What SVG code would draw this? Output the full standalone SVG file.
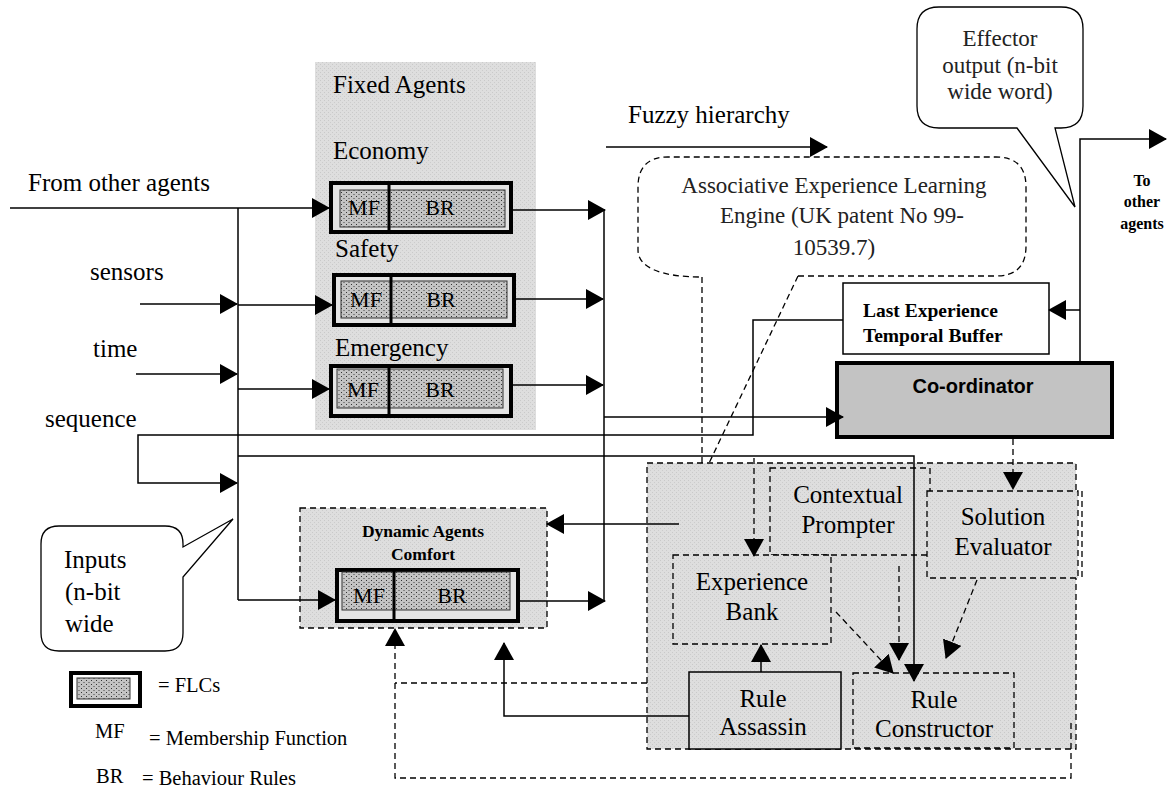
<svg xmlns="http://www.w3.org/2000/svg" width="1167" height="788" viewBox="0 0 1167 788">
<style>
.t{font-family:"Liberation Serif","Times New Roman",serif;font-size:25px;fill:#000}
.tl{font-family:"Liberation Serif","Times New Roman",serif;font-size:23px;fill:#222}
.tb{font-family:"Liberation Serif","Times New Roman",serif;font-weight:bold;fill:#000}
.ts{font-family:"Liberation Sans",Arial,sans-serif;font-weight:bold;font-size:20px;fill:#000}
.lg{font-family:"Liberation Serif","Times New Roman",serif;font-size:20.5px;fill:#000}
.fl{font-family:"Liberation Serif","Times New Roman",serif;font-size:22px;fill:#000}
.ln{stroke:#000;stroke-width:1.5;fill:none}
.dl{stroke:#000;stroke-width:1.3;fill:none;stroke-dasharray:6 4}
.a{marker-end:url(#ah)}
.panel{fill:url(#grain)}
.dbox{fill:url(#grain);stroke:#000;stroke-width:1.3;stroke-dasharray:6 4}
.outer{fill:#e4e4e4;stroke:#000;stroke-width:4}
.inner{fill:url(#dots);stroke:#333;stroke-width:1}
.div{stroke:#000;stroke-width:3}
</style>
<defs>
<marker id="ah" viewBox="0 0 18 20" refX="17" refY="10" markerWidth="18" markerHeight="20" markerUnits="userSpaceOnUse" orient="auto">
<path d="M0,0 L18,10 L0,20 z" fill="#000"/>
</marker>
<pattern id="dots" width="5" height="4" patternUnits="userSpaceOnUse">
<rect width="5" height="4" fill="#c4c4c4"/>
<rect x="1" y="0" width="1" height="1" fill="#333"/>
<rect x="3.5" y="2" width="1" height="1" fill="#444"/>
</pattern>
<pattern id="grain" width="4" height="4" patternUnits="userSpaceOnUse">
<rect width="4" height="4" fill="#dedede"/>
<rect x="0" y="0" width="1" height="1" fill="#c9c9c9"/>
<rect x="2" y="2" width="1" height="1" fill="#cccccc"/>
</pattern>
</defs>
<rect width="1167" height="788" fill="#fff"/>

<!-- Fixed agents panel -->
<g id="fixed-agents">
<rect class="panel" x="315" y="62" width="221" height="368"/>
<text class="t" x="333" y="93">Fixed Agents</text>
<text class="t" x="333" y="159">Economy</text>
<text class="t" x="335" y="257">Safety</text>
<text class="t" x="335" y="356">Emergency</text>
</g>
<g id="economy-flc">
<rect class="outer" x="331" y="183" width="180" height="49"/>
<rect class="inner" x="340" y="190" width="165" height="37"/>
<line class="div" x1="389" y1="183" x2="389" y2="232"/>
<text class="fl" x="364" y="215" text-anchor="middle">MF</text>
<text class="fl" x="440" y="215" text-anchor="middle">BR</text>
</g>
<g id="safety-flc">
<rect class="outer" x="334" y="275" width="180" height="50"/>
<rect class="inner" x="341" y="281" width="166" height="37"/>
<line class="div" x1="391" y1="275" x2="391" y2="325"/>
<text class="fl" x="366" y="307" text-anchor="middle">MF</text>
<text class="fl" x="441" y="307" text-anchor="middle">BR</text>
</g>
<g id="emergency-flc">
<rect class="outer" x="331" y="366" width="180" height="50"/>
<rect class="inner" x="337" y="369" width="166" height="39"/>
<line class="div" x1="389" y1="366" x2="389" y2="416"/>
<text class="fl" x="363" y="397" text-anchor="middle">MF</text>
<text class="fl" x="440" y="397" text-anchor="middle">BR</text>
</g>

<!-- Dynamic agents -->
<g id="dynamic-agents">
<rect class="dbox" x="300" y="508" width="247" height="120"/>
<text class="tb" x="423" y="537" font-size="17.5" text-anchor="middle">Dynamic Agents</text>
<text class="tb" x="423" y="560" font-size="17.5" text-anchor="middle">Comfort</text>
<rect class="outer" x="337" y="570" width="181" height="51"/>
<rect class="inner" x="342" y="572" width="168" height="38"/>
<line class="div" x1="394" y1="570" x2="394" y2="621"/>
<text class="fl" x="369" y="603" text-anchor="middle">MF</text>
<text class="fl" x="452" y="603" text-anchor="middle">BR</text>
</g>

<!-- Input labels -->
<g id="inputs-labels">
<text class="t" x="28" y="191">From other agents</text>
<text class="t" x="90" y="280">sensors</text>
<text class="t" x="93" y="357">time</text>
<text class="t" x="45" y="427">sequence</text>
</g>

<g id="fuzzy-label">
<text class="t" x="628" y="123">Fuzzy hierarchy</text>
</g>

<!-- Associative callout -->
<g id="associative-callout">
<path class="dl" d="M798,276 H996 Q1026,276 1026,246 V187 Q1026,157 996,157 H668 Q638,157 638,187 V250 C638,268 662,277 702,277"/>
<path class="dl" d="M702,277 V478 M798,276 L702,478"/>
<text class="tl" x="834" y="193" text-anchor="middle">Associative Experience Learning</text>
<text class="tl" x="842" y="223" text-anchor="middle">Engine (UK patent No 99-</text>
<text class="tl" x="834" y="255" text-anchor="middle">10539.7)</text>
</g>

<!-- Effector callout -->
<g id="effector-callout">
<path d="M939,7 H1061 Q1083,7 1083,29 V106 Q1083,128 1061,128 H1055 L1075,207 L1017,128 H939 Q917,128 917,106 V29 Q917,7 939,7 Z" fill="#fff" stroke="#000" stroke-width="1.3"/>
<text class="tl" x="1000" y="46" text-anchor="middle">Effector</text>
<text class="tl" x="1000" y="73" text-anchor="middle">output (n-bit</text>
<text class="tl" x="1000" y="99" text-anchor="middle">wide word)</text>
</g>

<g id="to-other-agents">
<text class="tb" x="1142" y="186" font-size="16" text-anchor="middle">To</text>
<text class="tb" x="1142" y="207" font-size="16" text-anchor="middle">other</text>
<text class="tb" x="1142" y="229" font-size="16" text-anchor="middle">agents</text>
</g>

<!-- Last experience buffer -->
<g id="last-experience-buffer">
<rect x="843" y="283" width="206" height="71" fill="#fff" stroke="#000" stroke-width="1.5"/>
<text class="tb" x="863" y="317" font-size="19.5">Last Experience</text>
<text class="tb" x="863" y="342" font-size="19.5">Temporal Buffer</text>
</g>

<!-- Coordinator -->
<g id="coordinator">
<rect x="837" y="363" width="275" height="74" fill="#c3c3c3" stroke="#000" stroke-width="4"/>
<text class="ts" x="973" y="393" text-anchor="middle">Co-ordinator</text>
</g>

<!-- AELE panel -->
<g id="aele-panel">
<rect class="dbox" x="647" y="463" width="429" height="286"/>
</g>
<g id="contextual-prompter">
<rect class="dbox" x="770" y="468" width="160" height="87"/>
<text class="t" x="848" y="503" text-anchor="middle">Contextual</text>
<text class="t" x="848" y="533" text-anchor="middle">Prompter</text>
</g>
<g id="solution-evaluator">
<rect class="dbox" x="927" y="491" width="151" height="87"/>
<line class="dl" x1="1082" y1="491" x2="1082" y2="578"/>
<text class="t" x="1003" y="525" text-anchor="middle">Solution</text>
<text class="t" x="1003" y="555" text-anchor="middle">Evaluator</text>
</g>
<g id="experience-bank">
<rect class="dbox" x="673" y="555" width="158" height="89"/>
<text class="t" x="752" y="590" text-anchor="middle">Experience</text>
<text class="t" x="752" y="620" text-anchor="middle">Bank</text>
</g>
<g id="rule-assassin">
<rect x="689" y="672" width="152" height="77" fill="url(#grain)" stroke="#000" stroke-width="1.5"/>
<text class="t" x="763" y="707" text-anchor="middle">Rule</text>
<text class="t" x="763" y="735" text-anchor="middle">Assassin</text>
</g>
<g id="rule-constructor">
<rect class="dbox" x="853" y="673" width="161" height="75"/>
<text class="t" x="934" y="708" text-anchor="middle">Rule</text>
<text class="t" x="934" y="737" text-anchor="middle">Constructor</text>
</g>

<!-- Inputs callout -->
<g id="inputs-callout">
<path d="M59,526 H165 Q183,526 183,544 V547 L233,519 L183,577 V633 Q183,651 165,651 H59 Q41,651 41,633 V544 Q41,526 59,526 Z" fill="#fff" stroke="#000" stroke-width="1.3"/>
<text class="t" x="64" y="568">Inputs</text>
<text class="t" x="65" y="600">(n-bit</text>
<text class="t" x="65" y="632">wide</text>
</g>

<!-- Legend -->
<g id="legend">
<rect x="71" y="673" width="69" height="33" fill="#fff" stroke="#000" stroke-width="4"/>
<rect class="inner" x="77" y="678" width="53" height="21"/>
<text class="lg" x="158" y="692">= FLCs</text>
<text class="lg" x="95" y="738" font-size="19">MF</text>
<text class="lg" x="149" y="745">= Membership Function</text>
<text class="lg" x="96" y="783">BR</text>
<text class="lg" x="142" y="785">= Behaviour Rules</text>
</g>

<!-- Connectors -->
<g id="connectors">
<path class="ln a" d="M10,208 H329"/>
<path class="ln" d="M238,208 V600"/>
<path class="ln a" d="M140,304 H237"/>
<path class="ln a" d="M238,305 H332"/>
<path class="ln a" d="M136,374 H237"/>
<path class="ln a" d="M238,389 H329"/>
<path class="ln a" d="M843,320 H753 V435 H138 V483 H237"/>
<path class="ln a" d="M238,456 H914 V681"/>
<path class="ln a" d="M238,600 H335"/>
<path class="ln a" d="M511,210 H605"/>
<path class="ln a" d="M514,299 H603"/>
<path class="ln a" d="M511,385 H603"/>
<path class="ln a" d="M518,601 H605"/>
<path class="ln" d="M604,210 V601"/>
<path class="ln a" d="M604,417 H843"/>
<path class="ln a" d="M1080,361 V139 H1166"/>
<path class="ln a" d="M1080,310 H1049"/>
<path class="ln a" d="M606,147 H827"/>
<path class="ln a" d="M679,524 H547"/>
<path class="ln a" d="M689,716 H504 V643"/>
<path class="ln a" d="M761,672 V645"/>
<path class="dl a" d="M1013,439 V489"/>
<path class="dl" d="M647,683 H395"/>
<path class="dl a" d="M1071,723 V778 H395 V629"/>
<path class="dl a" d="M836,612 L893,673"/>
<path class="dl a" d="M899,566 V660"/>
<path class="dl a" d="M977,580 L946,658"/>
<path class="dl a" d="M754,458 V556"/>
</g>
</svg>
